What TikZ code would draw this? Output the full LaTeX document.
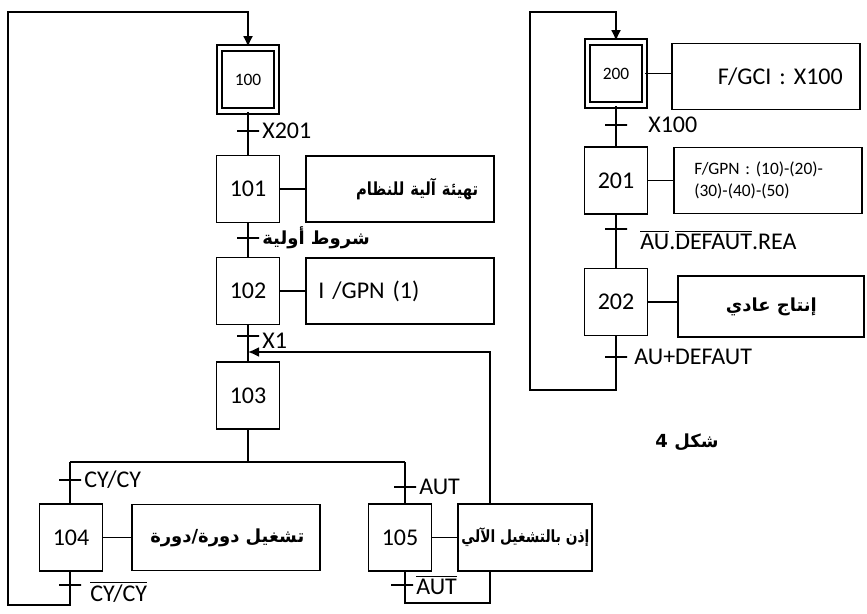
\documentclass[tikz,border=0pt]{standalone}
\usepackage{fontspec}
\setmainfont{Carlito}
\newfontfamily\arabicfont[Script=Arabic]{DejaVu Sans}
\newfontfamily\arabicnarrow[Script=Arabic, FakeStretch=0.82]{DejaVu Sans}
\TeXXeTstate=1
\usetikzlibrary{arrows.meta, positioning, backgrounds}

\begin{document}
\begin{tikzpicture}[
    x=0.5pt, y=-0.5pt,
    stepbox/.style={rectangle, draw, line width=0.9pt, fill=white, minimum width=31.5pt, minimum height=33.5pt, inner sep=0pt, font=\fontsize{12}{14}\selectfont},
    initbox/.style={stepbox, double, double distance=1.85pt, minimum width=28.5pt, minimum height=31.5pt, font=\fontsize{8.7}{10}\selectfont},
    action/.style={rectangle, draw, line width=0.9pt, fill=white, minimum width=94pt, minimum height=33pt, align=center, font=\fontsize{12}{14}\selectfont},
    arabic/.style={font=\arabicfont\bfseries\fontsize{9}{11}\selectfont},
    narrow/.style={font=\arabicnarrow\bfseries\fontsize{9}{11}\selectfont},
    rtl/.style={arabic, text width=78pt, inner xsep=8pt, align=right},
    trans/.style={rectangle, draw, fill=black, line width=0.9pt, minimum width=11pt, minimum height=0pt, inner sep=0pt},
    cond/.style={font=\fontsize{12}{14}\selectfont, inner sep=1pt},
    link/.style={line width=0.9pt},
    arrow/.style={link, -{Latex[length=5.5pt, width=5pt]}}
]
\useasboundingbox (0,0) rectangle (867,614);

% Steps of the first grafcet
\node[initbox] (s100) at (248,79.5) {100};
\node[stepbox] (s101) at (248,189) {101};
\node[stepbox] (s102) at (248,291) {102};
\node[stepbox] (s103) at (248,395.5) {103};
\node[stepbox] (s104) at (71,537.5) {104};
\node[stepbox] (s105) at (400,537.5) {105};

% Actions of the first grafcet
\node[action, rtl, narrow, right=12.5pt of s101] (a101) {\beginR تهيئة آلية للنظام\endR};
\node[action, align=left, text width=82pt, inner xsep=6pt, right=12.5pt of s102] (a102) {I /GPN (1)};
\node[action, rtl, right=14pt of s104] (a104) {\beginR تشغيل دورة/دورة\endR};
\node[action, font=\arabicnarrow\bfseries\fontsize{8.4}{10}\selectfont, minimum width=67pt, minimum height=33.5pt, inner xsep=1.5pt, right=12.5pt of s105] (a105) {\beginR إذن بالتشغيل الآلي\endR};

% Transitions of the first grafcet
\node[trans, label={[cond]right:X201}] (t100) at (248,131) {};
\node[trans, label={[cond, arabic]right:\beginR شروط أولية\endR}] (t101) at (248,238) {};
\node[trans, label={[cond, yshift=-2.5pt]right:X1}] (t102) at (248,336) {};
\node[trans, label={[cond]right:CY/CY}] (t103a) at (70,480) {};
\node[trans, label={[cond]right:AUT}] (t103b) at (405,487) {};
\node[trans, label={[cond, yshift=-3.5pt, xshift=3pt]right:$\overline{\mbox{CY/CY}}$}] (t104) at (70,585) {};
\node[trans, label={[cond]right:$\overline{\mbox{AUT}}$}] (t105) at (402,585) {};

% Steps of the second grafcet
\node[initbox] (s200) at (616,73.5) {200};
\node[stepbox] (s201) at (616,180.5) {201};
\node[stepbox] (s202) at (616,302) {202};

% Actions of the second grafcet
\node[action, align=right, text width=76.5pt, inner xsep=8.5pt, right=13pt of s200, yshift=-1.5pt] (a200) {F/GCI : X100};
\node[action, align=left, text width=74pt, inner xsep=9.75pt, font=\fontsize{8.7}{11}\selectfont, right=12.5pt of s201] (a201) {F/GPN : (10)-(20)-\\(30)-(40)-(50)};
\node[action, arabic, minimum width=93pt, minimum height=30.5pt, right=14.5pt of s202, yshift=-2.25pt] (a202) {\beginR إنتاج عادي\endR};

% Transitions of the second grafcet
\node[trans, label={[cond, label distance=9pt]right:X100}] (t200) at (616,125) {};
\node[trans, label={[cond, label distance=5pt, yshift=-5.5pt]right:$\overline{\mbox{AU}}$.$\overline{\mbox{DEFAUT}}$.REA}] (t201) at (616,229) {};
\node[trans, label={[cond, label distance=2pt]right:AU+DEFAUT}] (t202) at (616,357) {};

% Caption
\node[arabic] (fig) at (687,442) {\beginR شكل 4\endR};

% Links
\coordinate (dv) at (248,462);
\coordinate (dl) at (70,462);
\coordinate (dr) at (405,462);
\draw[link] (s100) -- (s101);
\draw[link] (s101) -- (s102);
\draw[link] (s102) -- (s103);
\draw[link] (s103) -- (dv);
\draw[link] (dl) -- (dr);
\draw[link] (dl) -- (dl |- s104.north);
\draw[link] (dr) -- (dr |- s105.north);
\draw[link] (s200) -- (s201);
\draw[link] (s201) -- (s202);

% Step to action links
\draw[link] (s101.east) -- (s101.east -| a101.west);
\draw[link] (s102.east) -- (s102.east -| a102.west);
\draw[link] (s104.east) -- (s104.east -| a104.west);
\draw[link] (s105.east) -- (s105.east -| a105.west);
\draw[link] (s200.east) -- (s200.east -| a200.west);
\draw[link] (s201.east) -- (s201.east -| a201.west);
\draw[link] (s202.east) -- (s202.east -| a202.west);

% Loops
\begin{scope}[on background layer]
\coordinate (b104) at (70,605);
\coordinate (lc) at (8,12);
\draw[arrow] (s104.south -| b104) -- (b104) -| (lc) -| (s100.north);
\coordinate (b105) at (405,603);
\coordinate (rc) at (490,352);
\draw[arrow] (s105.south -| b105) -- (b105) -| (rc) -- (rc -| s103.north);
\coordinate (b202) at (616,390);
\coordinate (rc2) at (530,12);
\draw[arrow] (s202) -- (b202) -| (rc2) -| (s200.north);
\end{scope}

\end{tikzpicture}
\end{document}
